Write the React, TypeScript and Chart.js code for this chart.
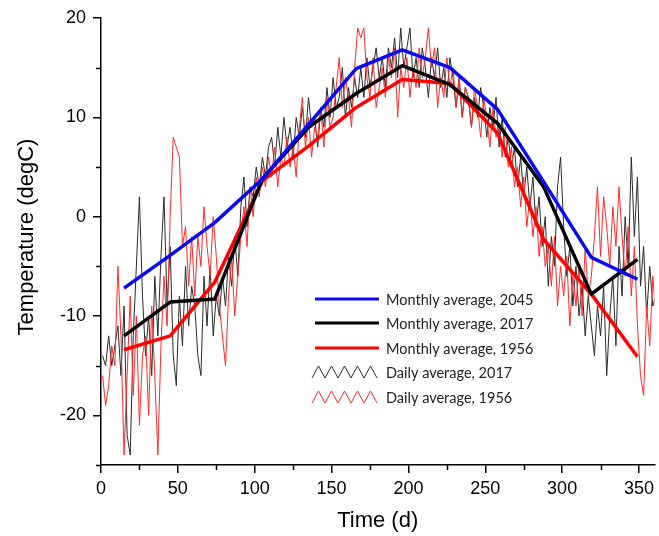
import React, { useEffect, useRef } from "react";
import { Chart, registerables } from "chart.js";

Chart.register(...registerables);

// ---------- data ----------
const monthDays = [15, 45, 74, 105, 135, 166, 196, 227, 258, 288, 319, 349];
const monthly2045 = [-7.2, -3.9, -0.6, 3.8, 9.3, 14.9, 16.8, 15.0, 10.8, 3.5, -4.1, -6.3];
const monthly2017 = [-12.0, -8.6, -8.3, 3.8, 9.0, 12.4, 15.2, 13.3, 9.4, 3.0, -7.8, -4.3];
const monthly1956 = [-13.4, -12.0, -6.6, 3.6, 7.1, 11.0, 13.8, 13.4, 8.4, -2.3, -7.8, -14.1];

// daily values sampled every second day (days 1, 3, 5, ... 365)
const daily2017 = [
  -14, -15, -12, -15, -13,
  -11, -16, -9, -22, -24,
  -12, -5, 2, -8, -14,
  -10, -16, -6, -12, -4,
  2, -9, -3, -14, -17,
  -8, -13, -5, -11, -7,
  -9, -14, -16, -6, -11,
  -5, -12, -8, -10, -6,
  -9, -4, -7, -2, -6,
  1, 4, -1, 3, 2,
  5, 3, 6, 4, 7,
  8, 5, 9, 6, 10,
  7, 9, 6, 10, 8,
  11, 8, 12, 9, 10,
  7, 11, 9, 13, 10,
  14, 11, 12, 15, 10,
  13, 11, 14, 12, 15,
  12, 16, 13, 15, 17,
  14, 16, 13, 17, 15,
  18, 14, 19, 15, 17,
  19, 14, 16, 13, 17,
  15, 12, 16, 14, 17,
  13, 15, 12, 16, 14,
  11, 14, 10, 13, 12,
  9, 12, 10, 13, 11,
  8, 11, 9, 12, 7,
  10, 6, 8, 5, 7,
  3, 6, 2, 5, 1,
  4, -1, 2, -3, 0,
  -7, -2, -5, 3, 6,
  -1, -6, -3, -9, -5,
  -10, -7, -12, -8, -11,
  -14, -9, -12, -7, -16,
  -10, -6, -13, -3, -8,
  0, -5, 6, -2, 4,
  -7, -3, -10, -5, -9,
  -8, -6, -10,
];
const daily1956 = [
  -16, -19, -17, -13, -15,
  -5, -12, -24, -16, -8,
  -18, -10, -21, -14, -12,
  -20, -9, -16, -24, -13,
  -6, -11, 0, 8, 7,
  6, -3, -1, -7, -2,
  -8, -2, -5, 1, -3,
  -6, 0, -4, -9, -12,
  -15, -8, -4, -10, -6,
  -2, 1, -3, 3, 0,
  4, 2, 5, 3, 6,
  4, 7, 3, 6, 5,
  8, 5, 7, 4, 9,
  12, 7, 10, 6, 9,
  8, 11, 7, 12, 9,
  10, 13, 16, 11, 14,
  12, 9, 15, 19, 18,
  19, 14, 12, 16, 11,
  13, 15, 12, 16, 14,
  17, 10, 15, 13, 16,
  12, 15, 13, 17, 14,
  16, 19, 15, 17, 11,
  14, 12, 16, 13, 15,
  11, 14, 10, 13, 12,
  9, 13, 11, 8, 12,
  10, 7, 11, 8, 9,
  6, 9, 5, 7, 3,
  5, 1, 4, -1, 2,
  -2, 1, -4, -1, -5,
  -3, -7, -2, -9, -5,
  -8, -4, -11, -6, -9,
  -5, -10, -3, -8, -6,
  -2, 3, -4, 2, -1,
  -5, 1, -3, 3, -2,
  -6, -1, -8, -3, -11,
  -16, -18, -9, -13, -6,
  -10, -7, -12,
];
const dailyDays = daily2017.map((_, i) => 1 + 2 * i);

const xMajorTicks = [0, 50, 100, 150, 200, 250, 300, 350];
const xMinorTicks = [25, 75, 125, 175, 225, 275, 325];
const yMajorTicks = [-20, -10, 0, 10, 20];
const yMinorTicks = [-25, -15, -5, 5, 15];

const legendLabels = [
  "Monthly average, 2045",
  "Monthly average, 2017",
  "Monthly average, 1956",
  "Daily average, 2017",
  "Daily average, 1956",
];

const BLUE = "#0a0af0";
const BLACK = "#000000";
const RED = "#ff0000";
const DAILY_BLACK = "#2a2a2a";
const DAILY_RED = "#ff2a2a";
const FONT = "'Liberation Sans', Arial, sans-serif";

const toPts = (xs: number[], ys: number[]) => xs.map((x, i) => ({ x, y: ys[i] }));

const decorPlugin = {
  id: "decor",
  afterDraw(chart: any) {
    const { ctx, chartArea, scales } = chart;
    const xs = scales.x;
    const ys = scales.y;
    ctx.save();
    // minor ticks
    ctx.strokeStyle = "#000";
    ctx.lineWidth = 1.5;
    ctx.beginPath();
    for (const v of yMinorTicks) {
      const py = Math.round(ys.getPixelForValue(v)) + 0.5;
      ctx.moveTo(chartArea.left - 5, py);
      ctx.lineTo(chartArea.left, py);
    }
    for (const v of xMinorTicks) {
      const px = Math.round(xs.getPixelForValue(v)) + 0.5;
      ctx.moveTo(px, chartArea.bottom);
      ctx.lineTo(px, chartArea.bottom + 5);
    }
    ctx.stroke();

    // axis titles
    ctx.fillStyle = "#000";
    ctx.font = `22px ${FONT}`;
    ctx.textAlign = "center";
    ctx.textBaseline = "middle";
    ctx.fillText("Time (d)", (chartArea.left + chartArea.right) / 2, 521);
    ctx.save();
    ctx.translate(27, 237);
    ctx.rotate(-Math.PI / 2);
    ctx.fillText("Temperature (degC)", 0, 0);
    ctx.restore();

    // legend
    const rowsY = [299, 323, 348, 372, 397];
    const x0 = 315;
    const x1 = 379;
    const colors = [BLUE, BLACK, RED, DAILY_BLACK, DAILY_RED];
    ctx.font = `14.5px Lato, 'Open Sans', sans-serif`;
    ctx.textAlign = "left";
    ctx.fillStyle = "#222";
    rowsY.forEach((y, i) => {
      ctx.strokeStyle = colors[i];
      ctx.beginPath();
      if (i < 3) {
        ctx.lineWidth = 3;
        ctx.moveTo(x0, y);
        ctx.lineTo(x1, y);
      } else {
        ctx.lineWidth = 1;
        const n = 10;
        const step = (x1 - 2 - (x0 - 3)) / n;
        for (let k = 0; k <= n; k++) {
          const px = x0 - 3 + k * step;
          const py = k % 2 === 0 ? y + 6 : y - 6;
          if (k === 0) ctx.moveTo(px, py);
          else ctx.lineTo(px, py);
        }
      }
      ctx.stroke();
      ctx.fillText(legendLabels[i], 386, y + 1);
    });
    ctx.restore();
  },
};

export default function App() {
  const ref = useRef<HTMLCanvasElement | null>(null);
  useEffect(() => {
    if (!ref.current) return;
    const chart = new Chart(ref.current, {
      type: "line",
      data: {
        datasets: [
          {
            label: legendLabels[0],
            data: toPts(monthDays, monthly2045),
            borderColor: BLUE,
            borderWidth: 3.5,
            pointRadius: 0,
            borderJoinStyle: "round",
          },
          {
            label: legendLabels[1],
            data: toPts(monthDays, monthly2017),
            borderColor: BLACK,
            borderWidth: 3.5,
            pointRadius: 0,
            borderJoinStyle: "round",
          },
          {
            label: legendLabels[2],
            data: toPts(monthDays, monthly1956),
            borderColor: RED,
            borderWidth: 3.5,
            pointRadius: 0,
            borderJoinStyle: "round",
          },
          {
            label: legendLabels[4],
            data: toPts(dailyDays, daily1956),
            borderColor: DAILY_RED,
            borderWidth: 1,
            pointRadius: 0,
          },
          {
            label: legendLabels[3],
            data: toPts(dailyDays, daily2017),
            borderColor: DAILY_BLACK,
            borderWidth: 1,
            pointRadius: 0,
          },
        ],
      },
      options: {
        animation: false,
        responsive: false,
        layout: { padding: { top: 18, right: 0, left: 0, bottom: 0 } },
        plugins: {
          legend: { display: false },
          tooltip: { enabled: false },
        },
        scales: {
          x: {
            type: "linear",
            min: 0,
            max: 360,
            afterBuildTicks: (s: any) => {
              s.ticks = xMajorTicks.map((v) => ({ value: v }));
            },
            afterFit: (s: any) => {
              s.height = 71;
            },
            grid: {
              drawOnChartArea: false,
              drawTicks: true,
              tickLength: 8,
              color: "#000",
              lineWidth: 1.5,
            },
            border: { display: true, color: "#000", width: 1.5 },
            ticks: {
              color: "#000",
              font: { size: 18, family: FONT },
              padding: 5,
              maxRotation: 0,
              autoSkip: false,
            },
          },
          y: {
            type: "linear",
            min: -25,
            max: 20,
            afterBuildTicks: (s: any) => {
              s.ticks = yMajorTicks.map((v) => ({ value: v }));
            },
            afterFit: (s: any) => {
              s.width = 101;
            },
            grid: {
              drawOnChartArea: false,
              drawTicks: true,
              tickLength: 8,
              color: "#000",
              lineWidth: 1.5,
            },
            border: { display: true, color: "#000", width: 1.5 },
            ticks: {
              color: "#000",
              font: { size: 18, family: FONT },
              padding: 7,
              autoSkip: false,
            },
          },
        },
      },
      plugins: [decorPlugin],
    } as any);
    return () => chart.destroy();
  }, []);

  return (
    <div style={{ position: "absolute", left: 0, top: 0, width: 659, height: 536, background: "#fff" }}>
      <canvas ref={ref} width={659} height={536} style={{ display: "block" }} />
    </div>
  );
}
